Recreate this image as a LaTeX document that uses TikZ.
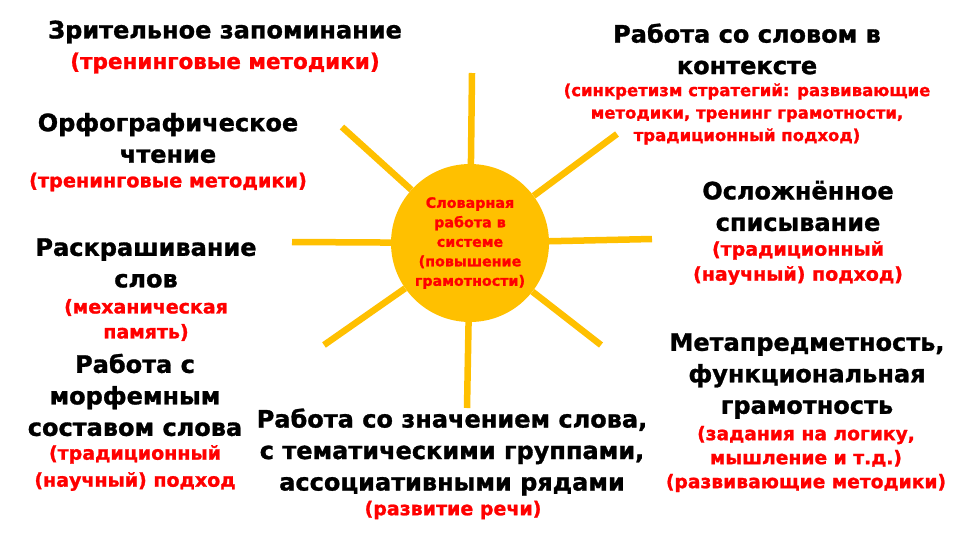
\documentclass[tikz,border=0pt]{standalone}
\usepackage{fontspec}
\setmainfont{DejaVu Sans}[BoldFeatures={FakeBold=1.2}]
\definecolor{sunyellow}{HTML}{FFC000}
\definecolor{notered}{HTML}{FF0000}
\tikzset{
  title/.style={font=\bfseries\fontsize{24}{31.5}\selectfont, text=black, align=center, inner sep=0pt},
  note/.style 2 args={font=\bfseries\fontsize{#1}{#2}\selectfont, text=notered, align=center, inner sep=0pt},
  ray/.style={draw=sunyellow, line width=6.5pt},
}
\begin{document}
\begin{tikzpicture}[x=1pt,y=-1pt]
\useasboundingbox (0,0) rectangle (960,541);
\fill[white] (0,0) rectangle (960,541);
% sun
\node[circle, fill=sunyellow, minimum size=158pt, inner sep=0pt,
      font=\bfseries\fontsize{14.3}{19.5}\selectfont, text=notered, align=center]
  (sun) at (470,243) {Словарная\\работа в\\системе\\(повышение\\грамотности)};
\coordinate (rt) at (472,73);
\coordinate (rul) at (342,127);
\coordinate (rur) at (617,134);
\coordinate (rl) at (292,242);
\coordinate (rr) at (652,239);
\coordinate (rll) at (324,345);
\coordinate (rlr) at (601,345);
\coordinate (rb) at (467,408);
\foreach \e in {rt,rul,rur,rl,rr,rll,rlr,rb}{\draw[ray] (sun) -- (\e);}
% texts
\node[title] (t1) at (225,32) {Зрительное запоминание};
\node[note={21.5}{25}] (n1) at (225,63) {(тренинговые методики)};
\node[title] (t2) at (168,138) {Орфографическое\\чтение};
\node[note={19.3}{24}] (n2) at (168,182) {(тренинговые методики)};
\node[title] (t3) at (146,263) {Раскрашивание\\слов};
\node[note={19}{25}] (n3) at (146,320) {(механическая\\память)};
\node[title] (t4) at (135,395) {Работа с\\морфемным\\составом слова};
\node[note={19}{27}] (n4) at (135,468) {(традиционный\\(научный) подход};
\node[title] (t5) at (452,452) {Работа со значением слова,\\с тематическими группами,\\ассоциативными рядами};
\node[note={19}{24}] (n5) at (453,510) {(развитие речи)};
\node[title] (t6) at (747,49) {Работа со словом в\\контексте};
\node[note={16.5}{22.5}] (n6) at (747,114) {(синкретизм стратегий: развивающие\\методики, тренинг грамотности,\\традиционный подход)};
\node[title] (t7) at (798,206) {Осложнённое\\списывание};
\node[note={19}{25}] (n7) at (798,263) {(традиционный\\(научный) подход)};
\node[title] (t8) at (807,376) {Метапредметность,\\функциональная\\грамотность};
\node[note={18.7}{24}] (n8) at (806,459) {(задания на логику,\\мышление и т.д.)\\(развивающие методики)};
\end{tikzpicture}
\end{document}
